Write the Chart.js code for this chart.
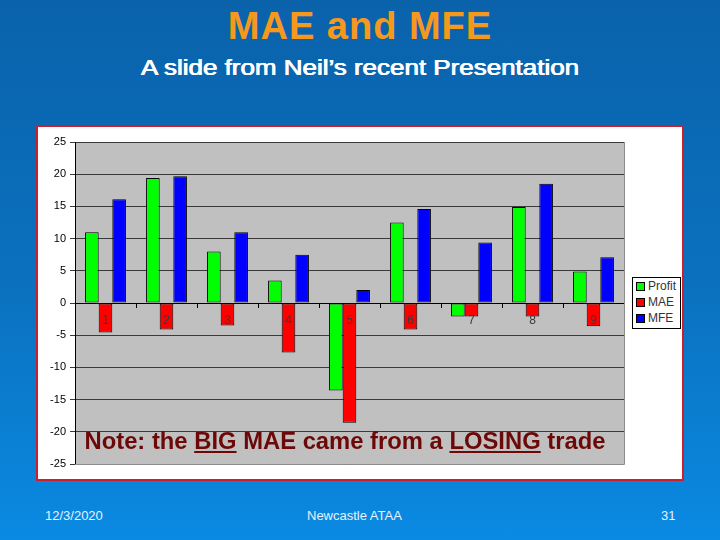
<!DOCTYPE html>
<html>
<head>
<meta charset="utf-8">
<script src="https://cdn.jsdelivr.net/npm/chart.js@4"></script>
<style>
  body { margin: 0; }
  #slide {
    position: relative; width: 720px; height: 540px; overflow: hidden;
    background: linear-gradient(#0a62ab, #0b72c0 55%, #0a8ae2);
    font-family: "Liberation Sans", Arial, sans-serif;
  }
  #title { position: absolute; top: 5px; left: 0; width: 720px; text-align: center;
    color: #f4991e; font-weight: bold; font-size: 38px; letter-spacing: 1px; }
  #subtitle { position: absolute; top: 55px; left: 0; width: 720px; text-align: center;
    color: #fff; font-size: 22px; transform: scaleX(1.18);
    text-shadow: 0.4px 0 0 #fff, -0.4px 0 0 #fff; }
  #box { position: absolute; left: 36px; top: 125px; width: 644px; height: 352px;
    border: 2px solid #c8202f; background: #fff; }
  #note { position: absolute; left: 38px; top: 427px; width: 614px; text-align: center;
    color: #6c0808; font-weight: bold; font-size: 23.8px; white-space: nowrap; }
  #legend { position: absolute; left: 632px; top: 277px; width: 47px; height: 50px;
    border: 1px solid #000; background: #fff; font-size: 12px; color: #333; }
  #legend div { height: 16px; line-height: 16px; padding-left: 3px; }
  #legend span { display: inline-block; width: 7px; height: 7px; border: 1px solid #000;
    margin-right: 3px; vertical-align: -1px; }
  .foot { position: absolute; top: 508px; color: #e6f2ff; font-size: 13px; }
</style>
</head>
<body>
<div id="slide">
  <div id="title">MAE and MFE</div>
  <div id="subtitle">A slide from Neil’s recent Presentation</div>
  <div id="box"><canvas id="chart" width="644" height="352"></canvas></div>
  <div id="legend"></div>
  <div id="note">Note: the <u>BIG</u> MAE came from a <u>LOSING</u> trade</div>
  <div class="foot" style="left:45px">12/3/2020</div>
  <div class="foot" style="left:307px">Newcastle ATAA</div>
  <div class="foot" style="left:661px">31</div>
</div>
<script>
const categories = ["1", "2", "3", "4", "5", "6", "7", "8", "9"];
const profit = [11, 19.4, 8, 3.5, -13.6, 12.5, -2.1, 14.9, 4.9];
const mae = [-4.6, -4.1, -3.5, -7.7, -18.6, -4.1, -2.1, -2.1, -3.6];
const mfe = [16.1, 19.7, 11, 7.5, 2, 14.6, 9.4, 18.5, 7.1];
const seriesNames = ["Profit", "MAE", "MFE"];
const seriesColors = ["#00ff00", "#ff0000", "#0000ff"];

// legend
const legendEl = document.getElementById("legend");
seriesNames.forEach((name, i) => {
  const row = document.createElement("div");
  row.innerHTML = `<span style="background:${seriesColors[i]}"></span>${name}`;
  legendEl.appendChild(row);
});

// grey plot background
const plotBg = {
  id: "plotBg",
  beforeDraw(chart) {
    const { ctx, chartArea: a } = chart;
    ctx.save();
    ctx.fillStyle = "#c0c0c0";
    ctx.fillRect(a.left, a.top, a.right - a.left, a.bottom - a.top);
    ctx.restore();
  },
  afterDraw(chart) {
    const { ctx, chartArea: a } = chart;
    ctx.save();
    ctx.strokeStyle = "#8c8c8c";
    ctx.lineWidth = 1;
    ctx.beginPath();
    ctx.moveTo(a.left, a.bottom + 0.5);
    ctx.lineTo(a.right + 0.5, a.bottom + 0.5);
    ctx.lineTo(a.right + 0.5, a.top);
    ctx.stroke();
    ctx.restore();
  },
};

const datasets = [profit, mae, mfe].map((values, i) => ({
  label: seriesNames[i],
  data: values,
  backgroundColor: seriesColors[i],
  borderColor: "#000",
  borderWidth: 1,
  borderSkipped: false,
  categoryPercentage: 0.67,
  barPercentage: 1.0,
}));

new Chart(document.getElementById("chart"), {
  type: "bar",
  data: { labels: categories, datasets },
  plugins: [plotBg],
  options: {
    responsive: false,
    animation: false,
    layout: { padding: { top: 15, bottom: 15, right: 58, left: 0 } },
    plugins: { legend: { display: false }, tooltip: { enabled: false } },
    scales: {
      x: {
        position: { y: 0 },
        grid: { drawOnChartArea: false, offset: true, tickLength: 4, color: "#000", z: 1 },
        border: { color: "#000", width: 1, z: 1 },
        ticks: { z: 1, color: "#3a3a3a", padding: 6, font: { family: "Liberation Sans", size: 12 } },
      },
      y: {
        min: -25,
        max: 25,
        afterFit: (s) => { s.width = 37; },
        ticks: { stepSize: 5, color: "#000", padding: 4, font: { family: "Liberation Sans", size: 11 } },
        grid: { color: "#3a3a3a", tickLength: 5 },
        border: { color: "#000", width: 1 },
      },
    },
  },
});
</script>
</body>
</html>
